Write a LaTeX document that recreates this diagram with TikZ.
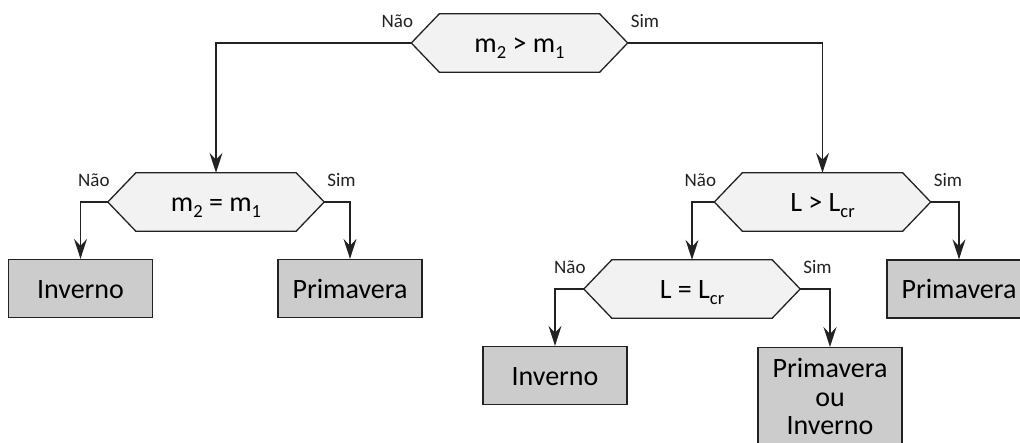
\documentclass[tikz,border=0pt]{standalone}
\usepackage{fontspec}
\setmainfont{Carlito}
\usetikzlibrary{arrows.meta,backgrounds}
\definecolor{hexfill}{HTML}{F2F2F2}
\definecolor{boxfill}{HTML}{CCCCCC}
\definecolor{linec}{HTML}{222222}
\newcommand\sbx[1]{\raisebox{-5.5pt}{\fontsize{18.5}{18.5}\selectfont #1}}
\begin{document}
\begin{tikzpicture}[x=1pt,y=1pt,
  hexcore/.style={minimum width=160pt,minimum height=58pt,inner sep=0pt,
    text height=24pt,text depth=4pt,font=\fontsize{28}{30}\selectfont},
  hexline/.style={draw=linec,fill=hexfill,line width=1.3pt,line join=miter},
  outbox/.style={draw=linec,fill=boxfill,line width=1.3pt,minimum width=144pt,
    minimum height=58pt,inner sep=0pt,text height=24pt,text depth=4pt,
    font=\fontsize{28}{28.5}\selectfont},
  tallbox/.style={draw=linec,fill=boxfill,line width=1.3pt,minimum width=144pt,
    inner xsep=0pt,inner ysep=11pt,align=center,
    font=\fontsize{28}{28.5}\selectfont},
  conn/.style={draw=linec,line width=1.3pt,
    -{Stealth[length=20pt,width=13pt,inset=7pt]}},
  lbl/.style={font=\fontsize{19}{19}\selectfont,text=linec,inner sep=0pt}]
\useasboundingbox (0,0) rectangle (1020,-443);

% decision hexagons (text cores)
\node[hexcore] (a) at (519.5,-43) {m\sbx{2} > m\sbx{1}};
\node[hexcore] (b) at (216,-202) {m\sbx{2} = m\sbx{1}};
\node[hexcore] (c) at (822.5,-202) {L > L\sbx{cr}};
\node[hexcore] (d) at (692,-289) {L = L\sbx{cr}};

\begin{scope}[on background layer]
\foreach \h in {a,b,c,d}
  \draw[hexline] (\h.north west) -- (\h.north east) -- ([xshift=28pt]\h.east)
    -- (\h.south east) -- (\h.south west) -- ([xshift=-28pt]\h.west) -- cycle;
\end{scope}

\foreach \h in {a,b,c,d}{
  \coordinate (\h W) at ([xshift=-28pt]\h.west);
  \coordinate (\h E) at ([xshift=28pt]\h.east);
}

% outcome boxes
\node[outbox] (b1) at (80.5,-288.5) {Inverno};
\node[outbox] (b2) at (350,-288.5) {Primavera};
\node[outbox] (b3) at (959,-289) {Primavera};
\node[outbox] (b4) at (555,-375.5) {Inverno};
\node[tallbox,anchor=north] (b5) at (830,-347) {Primavera\\ou\\Inverno};

% connectors
\draw[conn] (aW) -| (b.north);
\draw[conn] (aE) -| (c.north);
\draw[conn] (bW) -| (b1.north);
\draw[conn] (bE) -| (b2.north);
\draw[conn] (cW) -| (d.north);
\draw[conn] (cE) -| (b3.north);
\draw[conn] (dW) -| (b4.north);
\draw[conn] (dE) -| (b5.north);

% labels
\foreach \h in {a,b,c,d}{
  \node[lbl,anchor=base east] (\h n) at ([xshift=2pt,yshift=15pt]\h W) {Não};
  \node[lbl,anchor=base west] (\h s) at ([xshift=3pt,yshift=15pt]\h E) {Sim};
}
\end{tikzpicture}
\end{document}
